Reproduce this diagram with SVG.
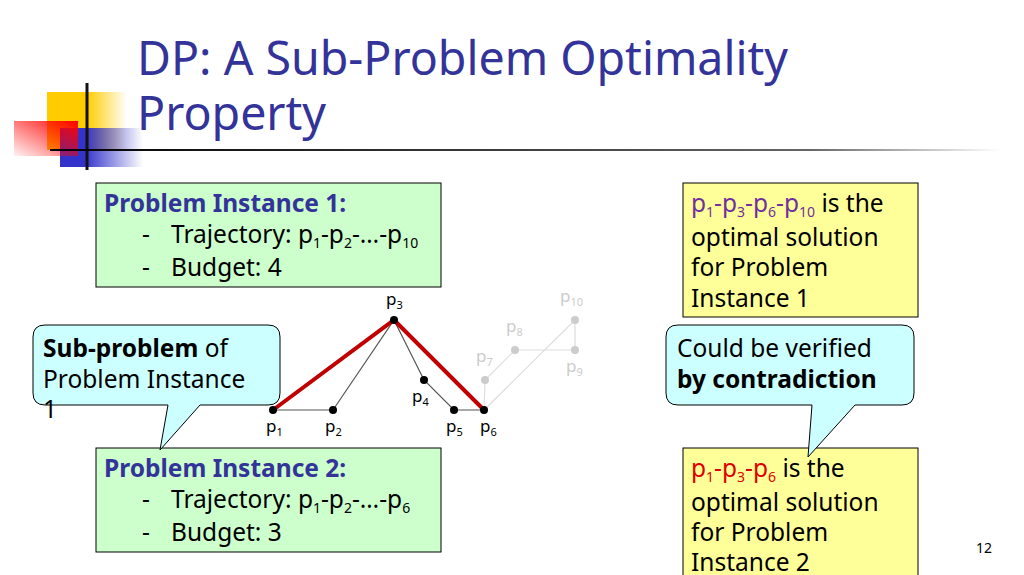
<svg xmlns="http://www.w3.org/2000/svg" width="1024" height="575" viewBox="0 0 1024 575">
<defs>
<linearGradient id="gy" x1="0" x2="1"><stop offset="0.5" stop-color="#ffcc00"/><stop offset="1" stop-color="#ffcc00" stop-opacity="0"/></linearGradient>
<linearGradient id="gb" x1="0" x2="1"><stop offset="0.3" stop-color="#3333cc"/><stop offset="1" stop-color="#3333cc" stop-opacity="0"/></linearGradient>
<linearGradient id="gr" x1="1" x2="0" y1="0" y2="1"><stop offset="0" stop-color="#ff0000"/><stop offset="1" stop-color="#ff0000" stop-opacity="0.05"/></linearGradient>
<linearGradient id="gl" x1="0" x2="1"><stop offset="0" stop-color="#000"/><stop offset="0.8" stop-color="#666"/><stop offset="1" stop-color="#fff"/></linearGradient>
<style>
text{font-family:"Noto Sans","DejaVu Sans",sans-serif;}
.t{font-size:24.5px;fill:#000}
.h{font-size:24.5px;fill:#333399;font-weight:bold}
.g{fill:#ccffcc;stroke:#000;stroke-width:1}
.y{fill:#ffff99;stroke:#000;stroke-width:1}
.c{fill:#ccffff;stroke:#000;stroke-width:1}
.lab{font-size:17px;fill:#000}
.lg{font-size:17px;fill:#ccc}
</style>
</defs>
<g id="decor">
<rect x="47" y="92" width="80" height="58" fill="url(#gy)"/>
<rect x="60" y="128" width="83" height="39" fill="url(#gb)"/>
<rect x="14" y="121" width="64" height="35" fill="url(#gr)"/>
<line x1="87" y1="83" x2="87" y2="170" stroke="#111" stroke-width="3"/>
<rect x="50" y="149" width="950" height="2" fill="url(#gl)"/>
</g>
<text x="137" y="75" fill="#333399" style="font-size:46.5px">DP: A Sub-Problem Optimality</text>
<text x="137" y="130" style="font-size:46.5px" fill="#333399">Property</text>
<g id="box1"><rect class="g" x="96" y="183" width="345" height="104"/>
<text x="104" y="212" class="h">Problem Instance 1:</text>
<text x="142" y="243" class="t">-</text><text x="171" y="243" class="t">Trajectory: p<tspan font-size="14" dy="5">1</tspan><tspan dy="-5">-p</tspan><tspan font-size="14" dy="5">2</tspan><tspan dy="-5">-…-p</tspan><tspan font-size="14" dy="5">10</tspan></text>
<text x="142" y="276" class="t">-</text><text x="171" y="276" class="t">Budget: 4</text></g>
<g id="box2"><rect class="g" x="96" y="448" width="345" height="104"/>
<text x="104" y="477" class="h">Problem Instance 2:</text>
<text x="142" y="508" class="t">-</text><text x="171" y="508" class="t">Trajectory: p<tspan font-size="14" dy="5">1</tspan><tspan dy="-5">-p</tspan><tspan font-size="14" dy="5">2</tspan><tspan dy="-5">-…-p</tspan><tspan font-size="14" dy="5">6</tspan></text>
<text x="142" y="541" class="t">-</text><text x="171" y="541" class="t">Budget: 3</text></g>
<g id="sol1"><rect class="y" x="683" y="183" width="235" height="134"/>
<text x="691" y="212" class="t"><tspan fill="#7030a0">p<tspan font-size="14" dy="5">1</tspan><tspan dy="-5">-p</tspan><tspan font-size="14" dy="5">3</tspan><tspan dy="-5">-p</tspan><tspan font-size="14" dy="5">6</tspan><tspan dy="-5">-p</tspan><tspan font-size="14" dy="5">10</tspan></tspan><tspan dy="-5"> is the</tspan></text>
<text x="691" y="246" class="t">optimal solution</text>
<text x="691" y="276" class="t">for Problem</text>
<text x="691" y="307" class="t">Instance 1</text></g>
<g id="sol2"><rect class="y" x="683" y="448" width="235" height="134"/>
<text x="691" y="477" class="t"><tspan fill="#e00000">p<tspan font-size="14" dy="5">1</tspan><tspan dy="-5">-p</tspan><tspan font-size="14" dy="5">3</tspan><tspan dy="-5">-p</tspan><tspan font-size="14" dy="5">6</tspan></tspan><tspan dy="-5"> is the</tspan></text>
<text x="691" y="511" class="t">optimal solution</text>
<text x="691" y="541" class="t">for Problem</text>
<text x="691" y="571" class="t">Instance 2</text></g>
<g id="call1"><path class="c" d="M45,325 H268 Q280,325 280,337 V393 Q280,405 268,405 H200 L160,450 L168,405 H45 Q33,405 33,393 V337 Q33,325 45,325 Z"/>
<text x="43" y="357" class="t"><tspan font-weight="bold">Sub-problem</tspan> of</text>
<text x="43" y="388" class="t">Problem Instance</text>
<text x="43" y="418" class="t">1</text></g>
<g id="call2"><path class="c" d="M678,325 H902 Q914,325 914,337 V393 Q914,405 902,405 H855 L808,457 L812,405 H678 Q666,405 666,393 V337 Q666,325 678,325 Z"/>
<text x="677" y="357" class="t">Could be verified</text>
<text x="677" y="388" class="t" font-weight="bold">by contradiction</text></g>
<g id="connectors">
<g stroke="#ddd" stroke-width="1.2" fill="none"><polyline points="484,410 485,380 515,350 575,350 575,320 484,410"/></g>
<g stroke="#555" stroke-width="1.2" fill="none"><polyline points="273,410 333,410 394,320 424,380 454,410 484,410"/></g>
<g stroke="#c00000" stroke-width="4" fill="none"><polyline points="273,410 394,320 484,410"/></g>
</g>
<g id="points">
<g fill="#ccc"><circle cx="485" cy="380" r="4"/><circle cx="515" cy="350" r="4"/><circle cx="575" cy="350" r="4"/><circle cx="575" cy="320" r="4"/></g>
<g fill="#000"><circle cx="273" cy="410" r="4"/><circle cx="333" cy="410" r="4"/><circle cx="394" cy="320" r="4"/><circle cx="424" cy="380" r="4"/><circle cx="454" cy="410" r="4"/><circle cx="484" cy="410" r="4"/></g>
<text x="266" y="432" class="lab">p<tspan font-size="11" dy="4">1</tspan></text>
<text x="325" y="432" class="lab">p<tspan font-size="11" dy="4">2</tspan></text>
<text x="386" y="305" class="lab">p<tspan font-size="11" dy="4">3</tspan></text>
<text x="412" y="402" class="lab">p<tspan font-size="11" dy="4">4</tspan></text>
<text x="446" y="432" class="lab">p<tspan font-size="11" dy="4">5</tspan></text>
<text x="480" y="432" class="lab">p<tspan font-size="11" dy="4">6</tspan></text>
<text x="476" y="362" class="lg">p<tspan font-size="11" dy="4">7</tspan></text>
<text x="506" y="332" class="lg">p<tspan font-size="11" dy="4">8</tspan></text>
<text x="566" y="372" class="lg">p<tspan font-size="11" dy="4">9</tspan></text>
<text x="560" y="302" class="lg">p<tspan font-size="11" dy="4">10</tspan></text>
</g>
<text x="976" y="553" font-size="14" fill="#000">12</text>
</svg>
